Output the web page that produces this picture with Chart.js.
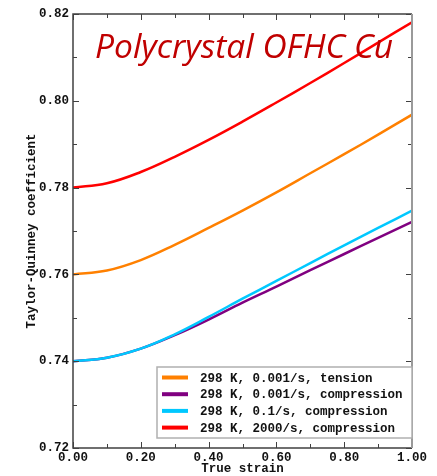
<!DOCTYPE html>
<html>
<head>
<meta charset="utf-8">
<script src="https://cdn.jsdelivr.net/npm/chart.js@4"></script>
<style>
  html, body { margin: 0; padding: 0; background: #fff; }
  #wrap { width: 437px; height: 476px; }
</style>
</head>
<body>
<div id="wrap"><canvas id="myChart" width="437" height="476"></canvas></div>
<script>
// values
const strain = [0, 0.1, 0.2, 0.3, 0.4, 0.5, 0.6, 0.7, 0.8, 0.9, 1.0];
const tension001 = [0.760, 0.7609, 0.7633, 0.7668, 0.7707, 0.7747, 0.7789, 0.7833, 0.7877, 0.7922, 0.7968];
const compression001 = [0.740, 0.7408, 0.7429, 0.7460, 0.7496, 0.7535, 0.7572, 0.7610, 0.7647, 0.7684, 0.7721];
const compression01 = [0.740, 0.7408, 0.7429, 0.7462, 0.7502, 0.7544, 0.7585, 0.7626, 0.7667, 0.7707, 0.7747];
const compression2000 = [0.780, 0.7810, 0.7836, 0.7871, 0.7910, 0.7952, 0.7996, 0.8041, 0.8087, 0.8134, 0.8181];
const seriesLabels = [
  "298 K, 0.001/s, tension",
  "298 K, 0.001/s, compression",
  "298 K, 0.1/s, compression",
  "298 K, 2000/s, compression"
];
const seriesColors = ["rgb(255, 128, 0)", "rgb(128, 0, 128)", "rgb(0, 200, 255)", "rgb(255, 0, 0)"];
const chartTitle = "Polycrystal OFHC Cu";

const monoFont = '"Liberation Mono", "DejaVu Sans Mono", monospace';

function pts(ys) {
  return strain.map((s, i) => ({ x: s, y: ys[i] }));
}

const allSeries = [tension001, compression001, compression01, compression2000];
const drawOrder = [1, 2, 0, 1];

const data = {
  datasets: allSeries.map((ys, i) => ({
    label: seriesLabels[i],
    data: pts(ys),
    borderColor: seriesColors[i],
    backgroundColor: seriesColors[i],
    borderWidth: 2.5,
    pointRadius: 0,
    tension: 0.4,
    order: drawOrder[i]
  }))
};

// frame, inward ticks, title and legend box
const decor = {
  id: "decor",
  afterDraw(chart) {
    const ctx = chart.ctx;
    const a = chart.chartArea;
    const xs = chart.scales.x;
    const ys = chart.scales.y;
    ctx.save();

    // ticks
    ctx.strokeStyle = "#404040";
    ctx.lineWidth = 1;
    xs.ticks.forEach((t) => {
      const px = Math.round(xs.getPixelForValue(t.value)) + 0.5;
      const len = Math.round(t.value * 10) % 2 === 0 ? 6 : 4;
      ctx.beginPath();
      ctx.moveTo(px, a.bottom); ctx.lineTo(px, a.bottom - len);
      ctx.moveTo(px, a.top); ctx.lineTo(px, a.top + len);
      ctx.stroke();
    });
    ys.ticks.forEach((t) => {
      const py = Math.round(ys.getPixelForValue(t.value)) + 0.5;
      const len = Math.round(t.value * 100) % 2 === 0 ? 6 : 4;
      ctx.beginPath();
      ctx.moveTo(a.left, py); ctx.lineTo(a.left + len, py);
      ctx.moveTo(a.right, py); ctx.lineTo(a.right - len, py);
      ctx.stroke();
    });

    // frame
    ctx.lineWidth = 1.5;
    ctx.strokeStyle = "#404040";
    ctx.beginPath();
    ctx.moveTo(a.right, a.top); ctx.lineTo(a.left, a.top);
    ctx.lineTo(a.left, a.bottom); ctx.lineTo(a.right, a.bottom);
    ctx.stroke();
    ctx.lineWidth = 2;
    ctx.strokeStyle = "#9a9a9a";
    ctx.beginPath();
    ctx.moveTo(a.right, a.top); ctx.lineTo(a.right, a.bottom);
    ctx.stroke();

    // title inside plot
    ctx.fillStyle = "#c00000";
    ctx.font = 'italic 32px "Open Sans", "Liberation Sans", sans-serif';
    ctx.textBaseline = "alphabetic";
    const w = ctx.measureText(chartTitle).width;
    const target = 298;
    ctx.save();
    ctx.translate(a.left + 22, a.top + 44);
    ctx.scale(target / w, 1);
    ctx.fillText(chartTitle, 0, 0);
    ctx.restore();

    // legend box
    const bx = a.left + 84, by = a.bottom - 81, bw = a.right - bx, bh = 71;
    ctx.fillStyle = "#fff";
    ctx.fillRect(bx, by, bw, bh);
    ctx.strokeStyle = "#b0b0b0";
    ctx.lineWidth = 1.5;
    ctx.strokeRect(bx, by, bw, bh);
    ctx.font = "bold 12.5px " + monoFont;
    ctx.textBaseline = "middle";
    chart.data.datasets.forEach((ds, i) => {
      const ry = by + 10.5 + i * 16.7;
      ctx.strokeStyle = ds.borderColor;
      ctx.lineWidth = 4;
      ctx.beginPath();
      ctx.moveTo(bx + 5, ry); ctx.lineTo(bx + 31, ry);
      ctx.stroke();
      ctx.fillStyle = "#111";
      ctx.fillText(ds.label, bx + 43, ry + 1);
    });
    ctx.restore();
  }
};

const config = {
  type: "line",
  data: data,
  options: {
    responsive: false,
    animation: false,
    layout: { padding: { top: 14, right: 25, left: 0, bottom: 0 } },
    plugins: { legend: { display: false }, tooltip: { enabled: false } },
    scales: {
      x: {
        type: "linear",
        min: 0,
        max: 1,
        grid: { display: false, drawTicks: false, tickLength: 0 },
        border: { display: false },
        ticks: {
          stepSize: 0.1,
          padding: 2,
          maxRotation: 0,
          color: "#111",
          font: { family: monoFont, size: 12.5, weight: "bold" },
          callback: (v) => (Math.round(v * 10) % 2 === 0 ? v.toFixed(2) : "")
        },
        title: {
          display: true,
          text: "True strain",
          color: "#111",
          padding: { top: 0, bottom: 0 },
          font: { family: monoFont, size: 12.5, weight: "bold" }
        },
        afterFit: (s) => { s.height = 28; }
      },
      y: {
        min: 0.72,
        max: 0.82,
        grid: { display: false, drawTicks: false, tickLength: 0 },
        border: { display: false },
        ticks: {
          stepSize: 0.01,
          padding: 4,
          color: "#111",
          font: { family: monoFont, size: 12.5, weight: "bold" },
          callback: (v) => (Math.round(v * 100) % 2 === 0 ? v.toFixed(2) : "")
        },
        title: {
          display: true,
          text: "Taylor-Quinney coefficient",
          color: "#111",
          padding: { top: 24, bottom: 0 },
          font: { family: monoFont, size: 12.5, weight: "bold" }
        },
        afterFit: (s) => { s.width = 73; }
      }
    }
  },
  plugins: [decor]
};

const myChart = new Chart(document.getElementById("myChart"), config);
</script>
</body>
</html>
